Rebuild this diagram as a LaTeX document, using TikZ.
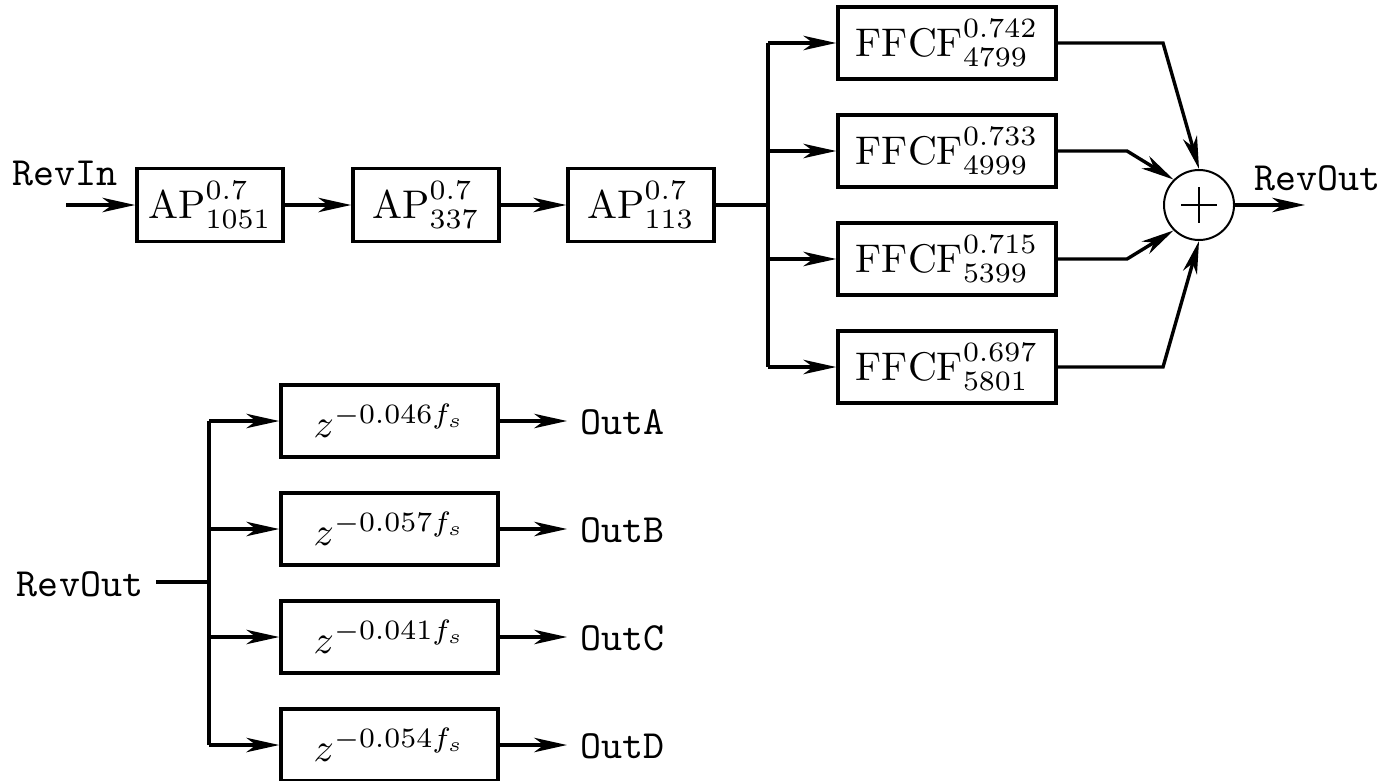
\documentclass[tikz,border=0pt]{standalone}
\usepackage{fontspec}
\usetikzlibrary{arrows.meta,calc}
\tikzset{
  blk/.style={draw,line width=0.9pt,inner sep=0pt,font=\fontsize{10}{12}\selectfont},
  apblk/.style={blk,minimum width=36.5pt,minimum height=18.25pt},
  ffblk/.style={blk,minimum width=54.5pt,minimum height=18pt},
  zblk/.style={blk,minimum width=54.25pt,minimum height=18pt},
  lbl/.style={inner sep=0pt,font=\fontsize{10}{12}\selectfont\ttfamily},
  outlbl/.style={lbl,outer sep=3.25pt},
  wire/.style={line width=0.85pt,line join=miter},
  arr/.style={wire,-{Stealth[length=8.2pt,width=3.6pt,inset=2.4pt]}},
  sumnode/.style={circle,draw,line width=0.5pt,minimum size=17.5pt,inner sep=0pt}
}
\begin{document}
\begin{tikzpicture}[x=0.25pt,y=-0.25pt]
\useasboundingbox (0,0) rectangle (1398,780);
% top chain
\node[lbl] (revin) at (65,173) {RevIn};
\coordinate (in) at (66,205);
\node[apblk] (ap1) at (210,205) {$\mathrm{AP}^{0.7}_{1051}$};
\node[apblk] (ap2) at (426,205) {$\mathrm{AP}^{0.7}_{337}$};
\node[apblk] (ap3) at (641,205) {$\mathrm{AP}^{0.7}_{113}$};
\coordinate (j) at (768,205);
\node[ffblk] (f1) at (947,43) {$\mathrm{FFCF}^{0.742}_{4799}$};
\node[ffblk] (f2) at (947,151) {$\mathrm{FFCF}^{0.733}_{4999}$};
\node[ffblk] (f3) at (947,259) {$\mathrm{FFCF}^{0.715}_{5399}$};
\node[ffblk] (f4) at (947,367) {$\mathrm{FFCF}^{0.697}_{5801}$};
\node[sumnode] (sum) at (1199,205) {};
\draw[line width=0.4pt] ([xshift=-4.4pt]sum.center) -- ([xshift=4.4pt]sum.center);
\draw[line width=0.4pt] ([yshift=-4.4pt]sum.center) -- ([yshift=4.4pt]sum.center);
\coordinate (b1) at (1163,43);
\coordinate (b2) at (1127,151);
\coordinate (b3) at (1127,259);
\coordinate (b4) at (1163,367);
\coordinate (out) at (1305,205);
\node[lbl] (revout1) at (1317,178) {RevOut};

\draw[arr] (in) -- (ap1.west);
\draw[arr] (ap1.east) -- (ap2.west);
\draw[arr] (ap2.east) -- (ap3.west);
\draw[wire] (ap3.east) -- (j);
\draw[wire] (f1.west -| j) -- (f4.west -| j);
\foreach \f in {f1,f2,f3,f4} \draw[arr] (\f.west -| j) -- (\f.west);
\draw[arr] (f1.east) -- (b1) -- (sum.north);
\draw[arr] (f2.east) -- (b2) -- (sum.north west);
\draw[arr] (f3.east) -- (b3) -- (sum.south west);
\draw[arr] (f4.east) -- (b4) -- (sum.south);
\draw[arr] (sum.east) -- (out);

% bottom distribution
\node[lbl] (revout2) at (80,584) {RevOut};
\coordinate (s) at (156,582);
\coordinate (k) at (209,582);
\node[zblk] (za) at (389.5,421) {$z^{-0.046f_s}$};
\node[zblk] (zb) at (389.5,529) {$z^{-0.057f_s}$};
\node[zblk] (zc) at (389.5,637) {$z^{-0.041f_s}$};
\node[zblk] (zd) at (389.5,745) {$z^{-0.054f_s}$};
\node[outlbl] (oa) at (622,422) {OutA};
\node[outlbl] (ob) at (622,530) {OutB};
\node[outlbl] (oc) at (622,638) {OutC};
\node[outlbl] (od) at (622,746) {OutD};
\draw[wire] (s) -- (k);
\draw[wire] (za.west -| k) -- (zd.west -| k);
\foreach \z in {za,zb,zc,zd} \draw[arr] (\z.west -| k) -- (\z.west);
\draw[arr] (za.east) -- (oa.west |- za.east);
\draw[arr] (zb.east) -- (ob.west |- zb.east);
\draw[arr] (zc.east) -- (oc.west |- zc.east);
\draw[arr] (zd.east) -- (od.west |- zd.east);
\end{tikzpicture}
\end{document}
